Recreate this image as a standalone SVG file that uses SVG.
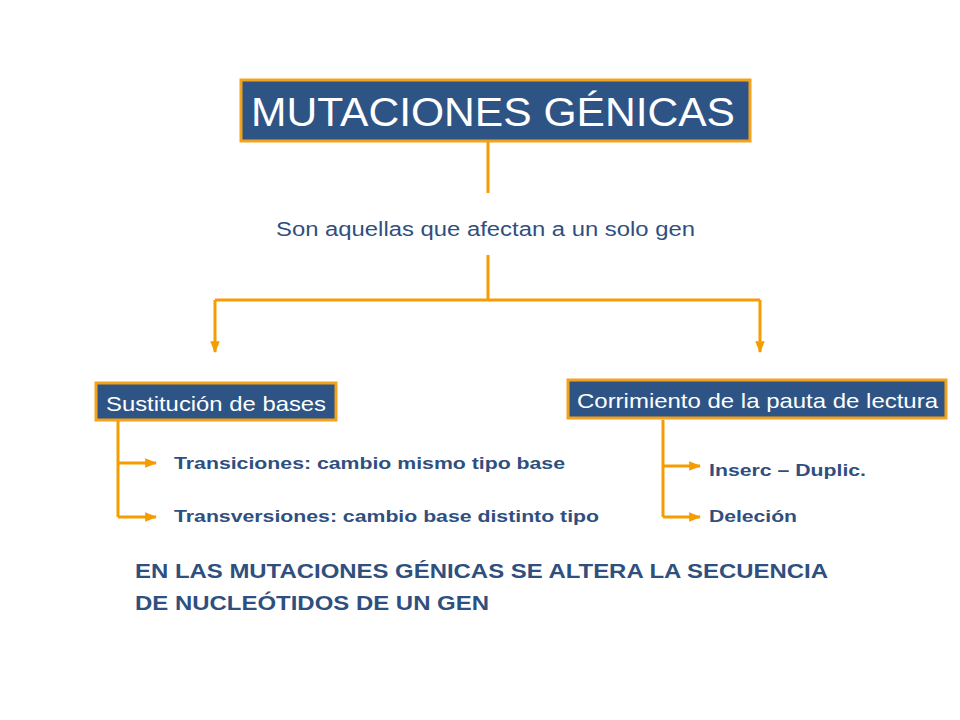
<svg xmlns="http://www.w3.org/2000/svg" width="960" height="720" viewBox="0 0 960 720">
<style>
.box{fill:#2e5486;stroke:#f4a11c;stroke-width:3}
.bt{fill:#fff;font-family:"Liberation Sans",Arial,sans-serif}
.ln{stroke:#f59c00;stroke-width:3;fill:none}
.t{fill:#2f4f7f;font-family:"Liberation Sans",Arial,sans-serif}
.b{font-weight:bold}
</style>
<defs>
<marker id="ah" viewBox="0 0 10 10" refX="9" refY="5" markerWidth="4" markerHeight="4" orient="auto" markerUnits="strokeWidth">
<path d="M0,1 L10,5 L0,9 z" fill="#f59c00"/>
</marker>
</defs>
<rect width="960" height="720" fill="#fff"/>
<g id="connectors">
<path class="ln" d="M488,142 V193"/>
<path class="ln" d="M488,255 V300"/>
<path class="ln" d="M215,300 H760"/>
<path class="ln" d="M215,300 V352" marker-end="url(#ah)"/>
<path class="ln" d="M760,300 V352" marker-end="url(#ah)"/>
<path class="ln" d="M118,421 V517"/>
<path class="ln" d="M118,463 H156" marker-end="url(#ah)"/>
<path class="ln" d="M118,517 H156" marker-end="url(#ah)"/>
<path class="ln" d="M663,420 V517"/>
<path class="ln" d="M663,466 H700" marker-end="url(#ah)"/>
<path class="ln" d="M663,517 H700" marker-end="url(#ah)"/>
</g>
<g id="title">
<rect class="box" x="241" y="80" width="509" height="61"/>
<text class="bt" x="251" y="126" font-size="41" textLength="484" lengthAdjust="spacingAndGlyphs">MUTACIONES GÉNICAS</text>
</g>
<g id="definition">
<text class="t" x="276" y="236" font-size="20" textLength="419" lengthAdjust="spacingAndGlyphs">Son aquellas que afectan a un solo gen</text>
</g>
<g id="sustitucion">
<rect class="box" x="96" y="383" width="240" height="37"/>
<text class="bt" x="106" y="411" font-size="21" textLength="220" lengthAdjust="spacingAndGlyphs">Sustitución de bases</text>
</g>
<g id="corrimiento">
<rect class="box" x="568" y="380" width="378" height="38"/>
<text class="bt" x="577" y="408" font-size="21" textLength="361" lengthAdjust="spacingAndGlyphs">Corrimiento de la pauta de lectura</text>
</g>
<g id="transiciones"><text class="t b" x="174" y="469" font-size="16" textLength="391" lengthAdjust="spacingAndGlyphs">Transiciones: cambio mismo tipo base</text></g>
<g id="transversiones"><text class="t b" x="174" y="522" font-size="16" textLength="425" lengthAdjust="spacingAndGlyphs">Transversiones: cambio base distinto tipo</text></g>
<g id="inserc"><text class="t b" x="709" y="476" font-size="16" textLength="157" lengthAdjust="spacingAndGlyphs">Inserc – Duplic.</text></g>
<g id="delecion"><text class="t b" x="709" y="522" font-size="16" textLength="88" lengthAdjust="spacingAndGlyphs">Deleción</text></g>
<g id="note">
<text class="t b" x="135" y="578" font-size="20" textLength="693" lengthAdjust="spacingAndGlyphs">EN LAS MUTACIONES GÉNICAS SE ALTERA LA SECUENCIA</text>
<text class="t b" x="135" y="610" font-size="20" textLength="354" lengthAdjust="spacingAndGlyphs">DE NUCLEÓTIDOS DE UN GEN</text>
</g>
</svg>
